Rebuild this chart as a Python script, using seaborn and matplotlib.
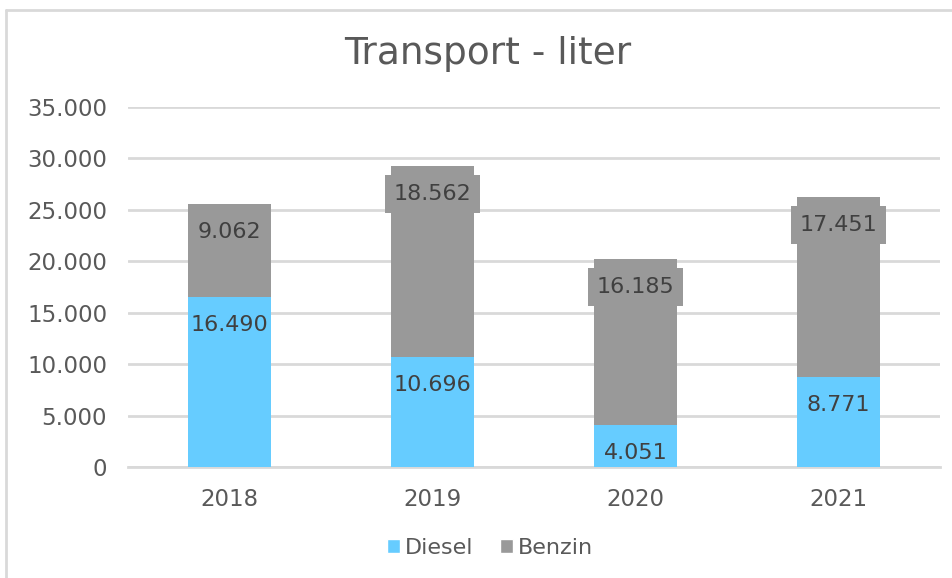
import numpy as np
import pandas as pd
import matplotlib.pyplot as plt
import seaborn as sns
from matplotlib.patches import Patch
from matplotlib.lines import Line2D

years = ['2018', '2019', '2020', '2021']
diesel = [16490, 10696, 4051, 8771]
benzin = [9062, 18562, 16185, 17451]
diesel_labels = ['16.490', '10.696', '4.051', '8.771']
benzin_labels = ['9.062', '18.562', '16.185', '17.451']
yticks = [0, 5000, 10000, 15000, 20000, 25000, 30000, 35000]
ytick_labels = ['0', '5.000', '10.000', '15.000', '20.000', '25.000', '30.000', '35.000']

df = pd.DataFrame({'Year': years, 'Diesel': diesel, 'Benzin': benzin})
df['Total'] = df['Diesel'] + df['Benzin']

sns.set_style('white')
plt.rcParams['font.family'] = ['DejaVu Sans']
txt = '#595959'
blue = '#66CCFF'
gray = '#999999'

fig = plt.figure(figsize=(9.53, 5.78), dpi=100)
ax = fig.add_axes([128 / 953, 111 / 578, 812 / 953, 360 / 578])

# stacked bars: total (benzin on top) then diesel over it
sns.barplot(data=df, x='Year', y='Total', color=gray, width=0.41, saturation=1,
            linewidth=0, ax=ax, zorder=2)
sns.barplot(data=df, x='Year', y='Diesel', color=blue, width=0.41, saturation=1,
            linewidth=0, ax=ax, zorder=3)

ax.set_ylim(0, 35000)
ax.set_xlim(-0.5, 3.5)
ax.set_yticks(yticks)
ax.set_yticklabels(ytick_labels)
ax.set_xlabel('')
ax.set_ylabel('')
ax.grid(axis='y', color='#D9D9D9', linewidth=2, zorder=0)
ax.set_axisbelow(True)
for s in ['top', 'right', 'left']:
    ax.spines[s].set_visible(False)
ax.spines['bottom'].set_color('#D9D9D9')
ax.spines['bottom'].set_linewidth(2)
ax.tick_params(axis='both', length=0, labelsize=16.5, labelcolor=txt)
ax.tick_params(axis='y', pad=15)
ax.tick_params(axis='x', pad=15)

for i in range(len(years)):
    ax.annotate(diesel_labels[i], (i, diesel[i]), xytext=(0, -28), textcoords='offset pixels',
                ha='center', va='center', fontsize=16, color='#404040', zorder=5)
    ax.annotate(benzin_labels[i], (i, diesel[i] + benzin[i]), xytext=(0, -28), textcoords='offset pixels',
                ha='center', va='center', fontsize=16, color='#404040', zorder=5,
                bbox=dict(boxstyle='square,pad=0.4', facecolor=gray, edgecolor='none'))

fig.text(488 / 953, 1 - 54 / 578, 'Transport - liter', ha='center', va='center', fontsize=27, color=txt)

handles = [Patch(facecolor=blue, label='Diesel'), Patch(facecolor=gray, label='Benzin')]
fig.legend(handles=handles, loc='center', bbox_to_anchor=(490 / 953, 1 - 548 / 578), ncol=2,
           frameon=False, fontsize=16, labelcolor=txt, handlelength=0.6, handleheight=0.6,
           handletextpad=0.2, columnspacing=1.2)

# chart border (top and left)
fig.add_artist(Line2D([6 / 953, 1], [1 - 10 / 578, 1 - 10 / 578], transform=fig.transFigure, color='#D9D9D9', linewidth=2))
fig.add_artist(Line2D([6 / 953, 6 / 953], [0, 1 - 10 / 578], transform=fig.transFigure, color='#D9D9D9', linewidth=2))

plt.savefig('out.png', dpi=100)
